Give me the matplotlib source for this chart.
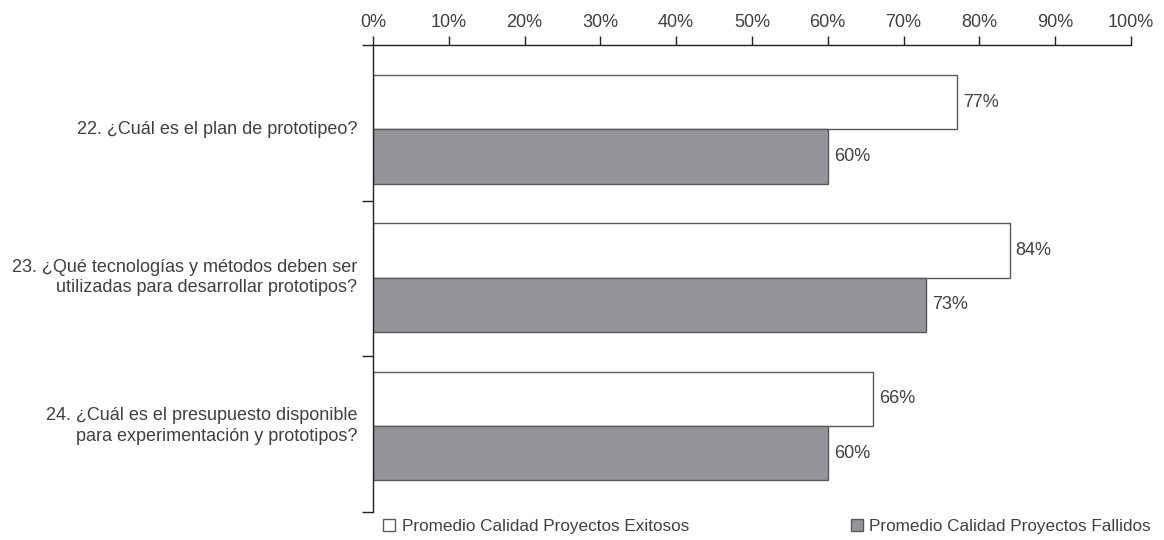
import matplotlib
matplotlib.use("Agg")
import matplotlib.pyplot as plt
import numpy as np

# data
preguntas = ["22. ¿Cuál es el plan de prototipeo?",
             "23. ¿Qué tecnologías y métodos deben ser\nutilizadas para desarrollar prototipos?",
             "24. ¿Cuál es el presupuesto disponible\npara experimentación y prototipos?"]
exitosos = [77, 84, 66]
fallidos = [60, 73, 60]
serie_nombres = ["Promedio Calidad Proyectos Exitosos", "Promedio Calidad Proyectos Fallidos"]
x_ticks = list(range(0, 101, 10))

plt.rcParams["font.family"] = ["Liberation Sans", "DejaVu Sans"]
text_col = "#404040"
line_col = "#231f20"

fig = plt.figure(figsize=(11.64, 5.4), dpi=100)
ax = fig.add_axes([0.3204, 0.0519, 0.9716 - 0.3204, 0.9167 - 0.0519])

y = np.arange(len(preguntas))
h = 0.366
b1 = ax.barh(y - h / 2, exitosos, height=h, color="white", edgecolor="#58595b", linewidth=1.0,
             label=serie_nombres[0])
b2 = ax.barh(y + h / 2, fallidos, height=h, color="#939598", edgecolor="#58595b", linewidth=1.0,
             label=serie_nombres[1])

for yy, v in zip(y - h / 2, exitosos):
    ax.text(v + 0.8, yy, f"{v}%", va="center", ha="left", fontsize=13, color=text_col)
for yy, v in zip(y + h / 2, fallidos):
    ax.text(v + 0.8, yy, f"{v}%", va="center", ha="left", fontsize=13, color=text_col)

ax.set_xlim(0, 100)
ax.set_ylim(2.58, -0.568)
ax.xaxis.tick_top()
ax.set_xticks(x_ticks)
ax.set_xticklabels([f"{t}%" for t in x_ticks], fontsize=13, color=text_col)
ax.tick_params(axis="x", direction="out", length=6.5, width=1.0, color=line_col, pad=3.5)

# separators between groups on the y axis
ax.set_yticks([-0.568, 0.483, 1.529, 2.58])
ax.set_yticklabels([])
ax.tick_params(axis="y", direction="out", length=8, width=1.0, color=line_col)
for yy, lab in zip(y, preguntas):
    ax.text(-2.1, yy, lab, ha="right", va="center", fontsize=13, color=text_col,
            multialignment="right", linespacing=1.25)

for s in ["right", "bottom"]:
    ax.spines[s].set_visible(False)
for s in ["left", "top"]:
    ax.spines[s].set_color(line_col)
    ax.spines[s].set_linewidth(1.0)

leg_kw = dict(frameon=False, fontsize=12.3, handlelength=0.7, handleheight=0.7,
              handletextpad=0.4, labelcolor=text_col, borderpad=0, borderaxespad=0)
fig.legend(handles=[b1], loc="center left", bbox_to_anchor=(383 / 1164, 1 - 526 / 540), **leg_kw)
fig.legend(handles=[b2], loc="center right", bbox_to_anchor=(1151 / 1164, 1 - 526 / 540), **leg_kw)

fig.savefig("out.png", dpi=100)
